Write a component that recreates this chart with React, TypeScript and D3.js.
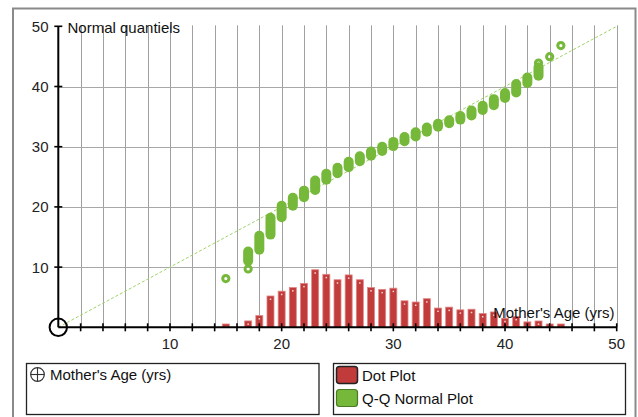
import React from "react";
import * as d3 from "d3";

// Dot plot (bar) data: mother's age -> bar height in axis units
const barAges = [15, 17, 18, 19, 20, 21, 22, 23, 24, 25, 26, 27, 28, 29, 30, 31, 32, 33, 34, 35, 36, 37, 38, 39, 40, 41, 42, 43, 44, 45];
const barValues = [0.55, 1.06, 1.95, 5.2, 6.0, 6.6, 7.3, 9.56, 8.8, 7.9, 8.7, 7.9, 6.6, 6.3, 6.5, 4.4, 4.2, 4.75, 3.2, 3.35, 2.9, 3.0, 2.3, 2.55, 1.5, 1.8, 0.9, 1.05, 0.55, 0.55];

// Q-Q normal plot: stacked point ranges per age (low / high normal quantile)
const qqAges = [17, 18, 19, 20, 21, 22, 23, 24, 25, 26, 27, 28, 29, 30, 31, 32, 33, 34, 35, 36, 37, 38, 39, 40, 41, 42, 43];
const qqLow = [11.0, 12.9, 15.4, 18.3, 20.2, 21.6, 22.8, 24.5, 25.6, 26.6, 27.6, 28.5, 29.3, 30.1, 30.9, 31.7, 32.5, 33.3, 33.9, 34.5, 35.2, 36.1, 36.9, 38.1, 39.0, 40.6, 41.8];
const qqHigh = [12.6, 15.2, 18.2, 20.2, 21.5, 22.7, 24.4, 25.5, 26.5, 27.5, 28.4, 29.2, 30.0, 30.8, 31.6, 32.4, 33.2, 33.8, 34.4, 35.1, 36.0, 36.8, 37.9, 38.9, 40.4, 41.5, 43.2];
// isolated Q-Q points
const ringAges = [15, 17, 43, 44, 45];
const ringValues = [8.1, 9.7, 43.9, 44.95, 46.8];

const xTickLabels = [10, 20, 30, 40, 50];
const yTickLabels = [10, 20, 30, 40, 50];
const minorStep = 2;

const W = 638;
const H = 417;
const FONT = "'Liberation Sans', Arial, sans-serif";
const FS = 15;
const RED = "#c23b3b";
const GREEN = "#76b83a";

export default function App() {
  const x = d3.scaleLinear().domain([0, 50]).range([58.3, 616.7]);
  const y = d3.scaleLinear().domain([0, 50]).range([327.3, 26.3]);
  const minor = d3.range(minorStep, 50 + 0.001, minorStep);
  const barW = 7;

  return (
    <svg width={W} height={H} style={{ position: "absolute", left: 0, top: 0, fontFamily: FONT }}>
      <rect x={0} y={0} width={W} height={H} fill="#fff" />
      {/* outer frame */}
      <path d={`M13,${H + 2} L13,8.5 L635.5,8.5 L635.5,${H + 2}`} fill="none" stroke="#8a8a8a" strokeWidth={2} />

      {/* grid */}
      {minor.map((v) => (
        <line key={"vg" + v} x1={Math.round(x(v)) + 0.5} x2={Math.round(x(v)) + 0.5} y1={y(50) - 1} y2={y(0)} stroke="#a0a0a0" strokeWidth={1} />
      ))}
      {yTickLabels.filter((v) => v < 50).map((v) => (
        <line key={"hg" + v} x1={x(0)} x2={x(50)} y1={Math.round(y(v)) + 0.5} y2={Math.round(y(v)) + 0.5} stroke="#a8a8a8" strokeWidth={1} />
      ))}

      {/* reference line */}
      <line x1={x(0)} y1={y(0)} x2={x(50)} y2={y(50)} stroke="#9ed468" strokeWidth={1} strokeDasharray="3,2" />

      {/* bars */}
      {barAges.map((a, i) => (
        <g key={"b" + a}>
          <rect x={x(a) - barW / 2} y={y(barValues[i])} width={barW} height={y(0) - y(barValues[i])} fill={RED} stroke="#e08585" strokeWidth={0.8} />
          <rect x={x(a) - 0.75} y={y(barValues[i]) + 2.5} width={1.5} height={1.5} fill="#f4dada" />
        </g>
      ))}

      {/* Q-Q points */}
      {qqAges.map((a, i) => (
        <line key={"q" + a} x1={x(a)} x2={x(a)} y1={y(qqLow[i])} y2={y(qqHigh[i])} stroke={GREEN} strokeWidth={10} strokeLinecap="round" />
      ))}
      {ringAges.map((a, i) => (
        <circle key={"r" + i} cx={x(a)} cy={y(ringValues[i])} r={3.1} fill="none" stroke={GREEN} strokeWidth={3} />
      ))}

      {/* axes */}
      <line x1={x(0)} x2={x(0)} y1={y(50)} y2={y(0)} stroke="#000" strokeWidth={2} />
      <line x1={x(0)} x2={x(50)} y1={y(0)} y2={y(0)} stroke="#000" strokeWidth={2} />
      {minor.map((v) => (
        <line key={"xt" + v} x1={x(v)} x2={x(v)} y1={y(0) - 4} y2={y(0) + 4} stroke="#000" strokeWidth={1.6} />
      ))}
      {yTickLabels.map((v) => (
        <line key={"yt" + v} x1={x(0) - 4} x2={x(0) + 4} y1={y(v)} y2={y(v)} stroke="#000" strokeWidth={1.6} />
      ))}
      <circle cx={x(0)} cy={y(0)} r={8.7} fill="none" stroke="#000" strokeWidth={2} />

      {/* tick labels */}
      {xTickLabels.map((v) => (
        <text key={"xl" + v} x={x(v)} y={348.8} fontSize={FS} textAnchor="middle" fill="#222">{v}</text>
      ))}
      {yTickLabels.map((v) => (
        <text key={"yl" + v} x={48.5} y={y(v) + 5.4} fontSize={FS} textAnchor="end" fill="#222">{v}</text>
      ))}

      {/* axis titles */}
      <text x={67.5} y={33} fontSize={FS} fill="#111">Normal quantiels</text>
      <text x={614.5} y={317.5} fontSize={FS} textAnchor="end" fill="#111">Mother's Age (yrs)</text>

      {/* legends */}
      <rect x={26.5} y={363.5} width={292.5} height={51} fill="#fff" stroke="#222" strokeWidth={1.3} />
      <circle cx={37.5} cy={374.5} r={6.8} fill="none" stroke="#333" strokeWidth={1.2} />
      <line x1={30.7} x2={44.3} y1={374.5} y2={374.5} stroke="#333" strokeWidth={1.1} />
      <line x1={37.5} x2={37.5} y1={367.7} y2={381.3} stroke="#333" strokeWidth={1.1} />
      <text x={50} y={380} fontSize={FS} fill="#111">Mother's Age (yrs)</text>

      <rect x={333.5} y={363.5} width={292} height={51} fill="#fff" stroke="#222" strokeWidth={1.3} />
      <rect x={336.5} y={366.5} width={21} height={17} rx={3} fill={RED} stroke="#222" strokeWidth={1.5} />
      <text x={362} y={380.5} fontSize={FS} fill="#111">Dot Plot</text>
      <rect x={336.5} y={389.5} width={21} height={17} rx={3} fill={GREEN} stroke="#4b7a22" strokeWidth={1.2} />
      <text x={362} y={403.5} fontSize={FS} fill="#111">Q-Q Normal Plot</text>
    </svg>
  );
}
